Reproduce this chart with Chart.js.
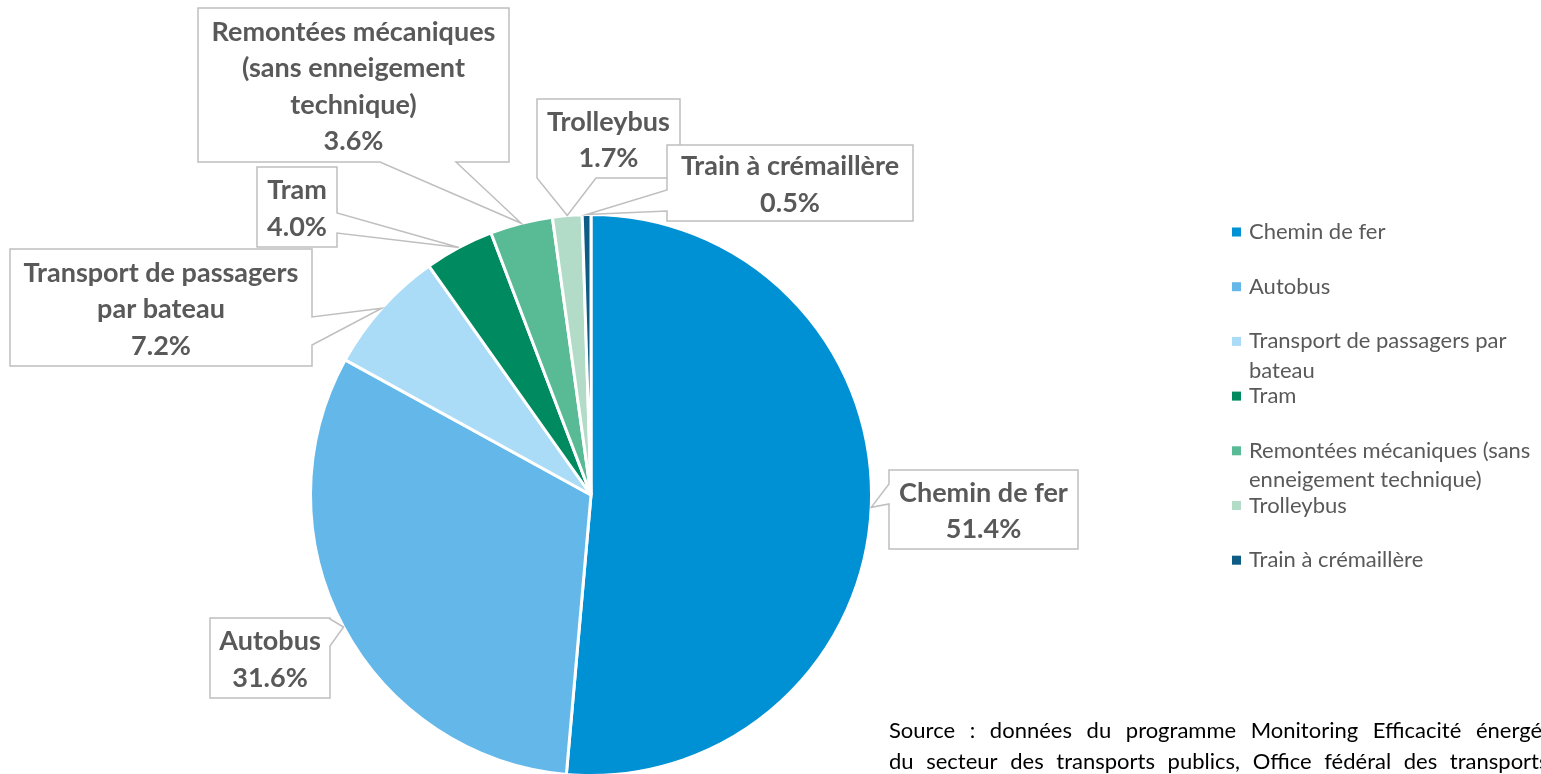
<!DOCTYPE html>
<html>
<head>
<meta charset="utf-8">
<script src="https://cdn.jsdelivr.net/npm/chart.js@4"></script>
<style>
  html, body { margin: 0; padding: 0; background: #fff; overflow: hidden; }
  #wrap { position: relative; width: 1541px; height: 790px; }
</style>
</head>
<body>
<div id="wrap"><canvas id="pie"></canvas></div>
<script>
// DATA
const categories = ['Chemin de fer', 'Autobus', 'Transport de passagers par bateau', 'Tram',
  'Remontées mécaniques (sans enneigement technique)', 'Trolleybus', 'Train à crémaillère']
const shares = [51.4, 31.6, 7.2, 4.0, 3.6, 1.7, 0.5]
const sliceColors = ['#0090d4', '#64b8e9', '#abdcf7', '#008a60', '#59ba96', '#b3dcc8', '#0c5c85']

// texte des étiquettes (coupé comme dans l'original)
const calloutLines = [
  ['Chemin de fer'], ['Autobus'], ['Transport de passagers', 'par bateau'], ['Tram'],
  ['Remontées mécaniques', '(sans enneigement', 'technique)'], ['Trolleybus'], ['Train à crémaillère']
]
const legendLines = [
  ['Chemin de fer'], ['Autobus'], ['Transport de passagers par', 'bateau'], ['Tram'],
  ['Remontées mécaniques (sans', 'enneigement technique)'], ['Trolleybus'], ['Train à crémaillère']
]
const sourceLines = [
  'Source : données du programme Monitoring Efficacité énergétique',
  'du secteur des transports publics, Office fédéral des transports'
]

// LAYOUT des bulles (x, y, w, h, côté de la pointe, base de la pointe)
const boxes = [
  {x: 889, y: 470, w: 189, h: 79, side: 'left', base: [484, 504]},
  {x: 210, y: 618, w: 120, h: 80, side: 'right', base: [619, 646]},
  {x: 10, y: 249, w: 302, h: 117, side: 'right', base: [317, 345]},
  {x: 257, y: 167, w: 80, h: 80, side: 'right', base: [213, 233]},
  {x: 198, y: 8, w: 311, h: 154, side: 'bottom', base: [380, 456]},
  {x: 537, y: 99, w: 143, h: 79, side: 'bottom', base: [537, 596]},
  {x: 667, y: 145, w: 246, h: 76, side: 'left', base: [190, 211]}
]

const TEXT_GREY = '#595959'
const FONT = 'Lato, "Open Sans", sans-serif'

// écrit une ligne mot par mot avec un espacement supplémentaire (texte justifié)
const drawJustified = (ctx, text, x, y, extra) => {
  const space = ctx.measureText(' ').width
  text.split(' ').forEach(word => {
    ctx.fillText(word, x, y)
    x += ctx.measureText(word).width + space + extra
  })
}

const calloutPlugin = {
  id: 'callouts',
  afterDatasetsDraw(chart) {
    const ctx = chart.ctx
    const arcs = chart.getDatasetMeta(0).data
    arcs.forEach((arc, i) => {
      const b = boxes[i]
      const mid = (arc.startAngle + arc.endAngle) / 2
      const ax = arc.x + Math.cos(mid) * arc.outerRadius
      const ay = arc.y + Math.sin(mid) * arc.outerRadius

      ctx.save()
      ctx.beginPath()
      const r = b.x + b.w, btm = b.y + b.h
      ctx.moveTo(b.x, b.y)
      ctx.lineTo(r, b.y)
      if (b.side === 'right') {
        ctx.lineTo(r, b.base[0]); ctx.lineTo(ax, ay); ctx.lineTo(r, b.base[1])
      }
      ctx.lineTo(r, btm)
      if (b.side === 'bottom') {
        ctx.lineTo(b.base[1], btm); ctx.lineTo(ax, ay); ctx.lineTo(b.base[0], btm)
      }
      ctx.lineTo(b.x, btm)
      if (b.side === 'left') {
        ctx.lineTo(b.x, b.base[1]); ctx.lineTo(ax, ay); ctx.lineTo(b.x, b.base[0])
      }
      ctx.closePath()
      ctx.fillStyle = '#fff'
      ctx.fill()
      ctx.strokeStyle = '#bfbfbf'
      ctx.lineWidth = 1.5
      ctx.stroke()

      const lines = [...calloutLines[i], shares[i].toFixed(1) + '%']
      const lh = 36.5
      const cx = b.x + b.w / 2
      const cy = b.y + b.h / 2
      ctx.fillStyle = TEXT_GREY
      ctx.font = 'bold 27px ' + FONT
      ctx.textAlign = 'center'
      ctx.textBaseline = 'middle'
      lines.forEach((t, k) => {
        ctx.fillText(t, cx, cy + (k - (lines.length - 1) / 2) * lh + 2)
      })
      ctx.restore()
    })
  },
  afterDraw(chart) {
    const ctx = chart.ctx
    ctx.save()
    // légende
    ctx.font = '22px ' + FONT
    ctx.textAlign = 'left'
    ctx.textBaseline = 'middle'
    legendLines.forEach((lines, i) => {
      const y0 = 232 + i * 54.7
      ctx.fillStyle = sliceColors[i]
      ctx.fillRect(1232, y0 - 4.5, 9, 9)
      ctx.fillStyle = TEXT_GREY
      lines.forEach((t, k) => ctx.fillText(t, 1249, y0 + k * 29.5))
    })
    // source (texte justifié, coupé au bord)
    ctx.fillStyle = '#000'
    ctx.font = '22px ' + FONT
    drawJustified(ctx, sourceLines[0], 889, 731, 9)
    drawJustified(ctx, sourceLines[1], 889, 762, 7)
    ctx.restore()
  }
}

const init = () => {
  const ctx = document.getElementById('pie').getContext('2d')
  new Chart(ctx, {
    type: 'pie',
    data: {
      labels: categories,
      datasets: [{
        data: shares,
        backgroundColor: sliceColors,
        borderColor: '#ffffff',
        borderWidth: 3,
        hoverOffset: 0
      }]
    },
    options: {
      responsive: true,
      maintainAspectRatio: false,
      animation: false,
      layout: { padding: { top: 213, bottom: 13, left: 309, right: 668 } },
      plugins: {
        legend: { display: false },
        tooltip: { enabled: false }
      }
    },
    plugins: [calloutPlugin]
  })
}

init()
</script>
</body>
</html>
